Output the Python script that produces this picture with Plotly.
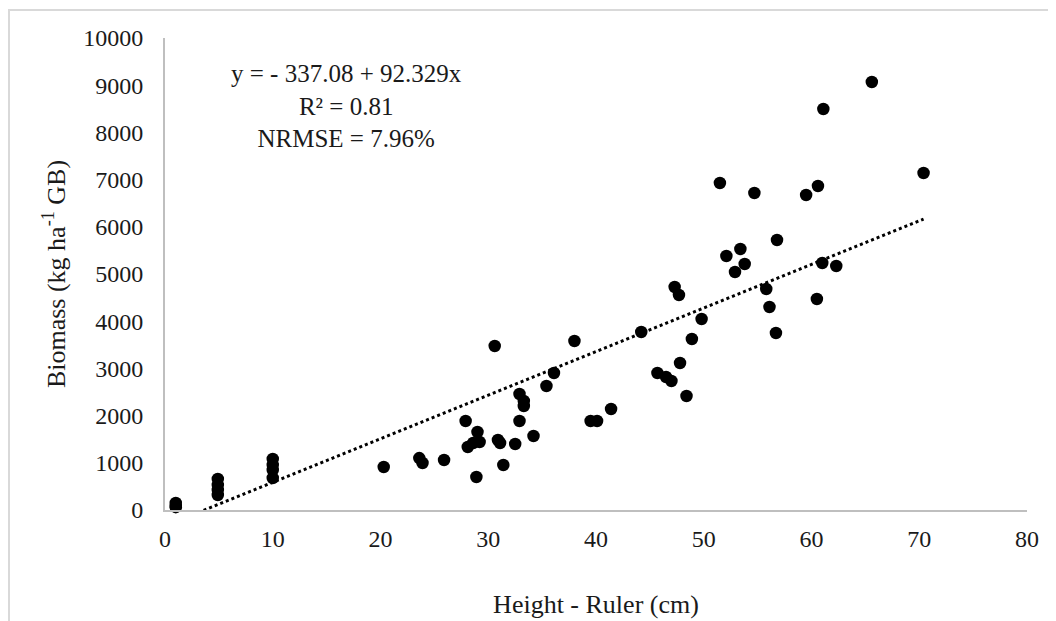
import plotly.graph_objects as go

# Height - Ruler (cm)
height_cm = [1.0, 1.0, 1.0,
             4.9, 4.9, 4.9, 4.9,
             10.0, 10.0, 10.0, 10.0,
             20.3, 23.6, 23.9, 25.9, 27.9, 28.1, 28.6, 29.0, 29.2, 28.9,
             30.6, 30.9, 31.1, 31.4, 32.5, 32.9, 32.9, 33.3, 33.3, 34.2,
             35.4, 36.1, 38.0, 39.5, 40.1, 41.4, 44.2, 45.7, 46.5, 47.0,
             47.3, 47.7, 47.8, 48.4, 48.9, 49.8, 51.5, 52.1, 52.9, 53.4,
             53.8, 54.7, 55.8, 56.1, 56.7, 56.8, 59.5, 60.6, 60.5, 61.0,
             62.3, 61.1, 65.6, 70.4]
# Biomass (kg ha-1 GB)
biomass = [148, 85, 60,
           657, 530, 424, 318,
           1080, 953, 847, 678,
           911, 1100, 996, 1060, 1886, 1335, 1420, 1652, 1440, 700,
           3475, 1483, 1420, 953, 1398, 2458, 1886, 2310, 2203, 1568,
           2627, 2903, 3580, 1886, 1886, 2140, 3771, 2903, 2818, 2733,
           4725, 4555, 3114, 2415, 3623, 4047, 6928, 5381, 5042, 5530,
           5212, 6716, 4682, 4301, 3750, 5720, 6674, 6864, 4470, 5233,
           5170, 8496, 9068, 7140]

intercept = -337.08
slope = 92.329
trend_x = [min(height_cm), max(height_cm)]
trend_y = [intercept + slope * v for v in trend_x]

x_ticks = [0, 10, 20, 30, 40, 50, 60, 70, 80]
x_tick_labels = ["0", "10", "20", "30", "40", "50", "60", "70", "80"]
y_ticks = [0, 1000, 2000, 3000, 4000, 5000, 6000, 7000, 8000, 9000, 10000]
y_tick_labels = ["0", "1000", "2000", "3000", "4000", "5000", "6000", "7000",
                 "8000", "9000", "10000"]

FONT = "Liberation Serif"
TXT = "#1a1a1a"
AXC = "#bfbfbf"

fig = go.Figure()
fig.add_trace(go.Scatter(x=height_cm, y=biomass, mode="markers",
                         marker=dict(size=12.5, color="black", line=dict(width=0)),
                         showlegend=False, cliponaxis=False))
fig.add_trace(go.Scatter(x=trend_x, y=trend_y, mode="lines",
                         line=dict(color="black", width=3, dash="dot"),
                         showlegend=False))

fig.update_layout(
    width=1056, height=621,
    margin=dict(l=157, r=37, t=30, b=119),
    paper_bgcolor="white", plot_bgcolor="white",
    font=dict(family=FONT, size=24, color=TXT),
    xaxis=dict(range=[0, 80], tickvals=x_ticks, ticktext=x_tick_labels,
               showgrid=False, zeroline=False,
               showline=True, linecolor=AXC, linewidth=2, ticks="",
               ticklabelstandoff=6,
               title=dict(text="Height - Ruler (cm)", standoff=44,
                          font=dict(family=FONT, size=26, color=TXT))),
    yaxis=dict(range=[0, 10000], tickvals=y_ticks, ticktext=y_tick_labels,
               showgrid=False, zeroline=False,
               showline=True, linecolor=AXC, linewidth=2, ticks="",
               ticklabelstandoff=15,
               title=dict(text="Biomass (kg ha<sup>-1</sup> GB)", standoff=10,
                          font=dict(family=FONT, size=26, color=TXT))),
    annotations=[dict(xref="x", yref="y", x=16.8, y=8565, xanchor="center", yanchor="middle",
                      text="y = - 337.08 + 92.329x<br>R² = 0.81<br>NRMSE = 7.96%",
                      showarrow=False, align="center",
                      font=dict(family=FONT, size=25, color=TXT))],
    shapes=[dict(type="rect", xref="paper", yref="paper",
                 x0=-0.181, x1=1.2, y0=-0.5, y1=1.0593,
                 line=dict(color="#d9d9d9", width=2), layer="below")],
)

fig.write_html("out.html")
